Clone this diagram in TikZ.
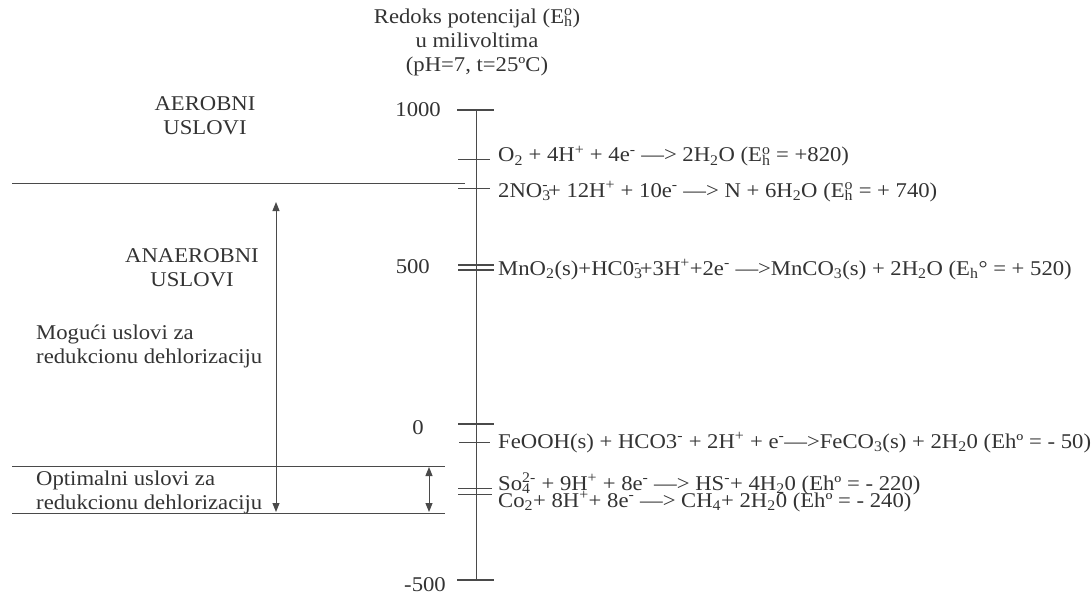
\documentclass[tikz,border=0pt]{standalone}
\usepackage{fontspec}
\setmainfont{Liberation Serif}[FakeStretch=1.08]
\usetikzlibrary{arrows.meta}
\definecolor{ink}{HTML}{333333}
\definecolor{rule}{HTML}{4A4A4A}
\newcommand{\sbx}[1]{\textsubscript{#1}}
\newcommand{\spx}[1]{\textsuperscript{#1}}
\newcommand{\bothx}[2]{\rlap{\textsubscript{#1}}\textsuperscript{#2}}
\tikzset{
  lbl/.style={text=ink, inner sep=0pt, font=\fontsize{21}{24}\selectfont},
  rxn/.style={lbl, anchor=base west},
  axisline/.style={draw=rule, line width=1pt},
  minortick/.style={draw=rule, line width=1pt},
  majortick/.style={draw=rule, line width=2pt},
  sep/.style={draw=rule, line width=0.9pt},
  dbl/.style={draw=rule, line width=1pt, {Triangle[length=9pt,width=7pt]}-{Triangle[length=9pt,width=7pt]}}
}
\begin{document}
\begin{tikzpicture}[x=1pt,y=-1pt]
\useasboundingbox (0,0) rectangle (1091,596);
% title
\node[lbl, align=center] (title) at (477,42) {Redoks potencijal (E\bothx{h}{o})\\u milivoltima\\(pH=7, t=25ºC)};
% axis
\coordinate (top) at (476,110);
\coordinate (bot) at (476,580);
\draw[axisline] (top) -- (bot);
% ticks
\coordinate (k1a) at (457,110); \coordinate (k1b) at (494,110);
\draw[majortick] (k1a) -- (k1b);
\coordinate (k2a) at (458,160); \coordinate (k2b) at (490,160);
\draw[minortick] (k2a) -- (k2b);
\coordinate (k3a) at (458,188); \coordinate (k3b) at (490,188);
\draw[minortick] (k3a) -- (k3b);
\coordinate (k4a) at (458,265); \coordinate (k4b) at (494,265);
\coordinate (k5a) at (458,270); \coordinate (k5b) at (494,270);
\draw[minortick, line width=1.6pt] (k4a) -- (k4b);
\draw[minortick, line width=1.6pt] (k5a) -- (k5b);
\coordinate (k6a) at (458,424); \coordinate (k6b) at (494,424);
\draw[majortick] (k6a) -- (k6b);
\coordinate (k7a) at (459,442); \coordinate (k7b) at (490,442);
\draw[minortick] (k7a) -- (k7b);
\coordinate (k8a) at (458,488); \coordinate (k8b) at (492,488);
\draw[minortick] (k8a) -- (k8b);
\coordinate (k9a) at (458,494); \coordinate (k9b) at (492,494);
\draw[minortick] (k9a) -- (k9b);
\coordinate (k10a) at (457,580); \coordinate (k10b) at (494,580);
\draw[majortick] (k10a) -- (k10b);
% scale labels
\node[lbl, anchor=east] (v1000) at (441,110) {1000};
\node[lbl, anchor=east] (v500) at (430,267) {500};
\node[lbl, anchor=east] (v0) at (424,428) {0};
\node[lbl, anchor=east] (vm500) at (446,585) {-500};
% reactions
\node[rxn] (r1) at (498,162) {O\sbx{2} + 4H\spx{+} + 4e\spx{-} —> 2H\sbx{2}O (E\bothx{h}{o} = +820)};
\node[rxn] (r2) at (498,197) {2NO\bothx{3}{-}+ 12H\spx{+} + 10e\spx{-} —> N + 6H\sbx{2}O (E\bothx{h}{o} = + 740)};
\node[rxn] (r3) at (498,275) {MnO\sbx{2}(s)+HC0\bothx{3}{-}+3H\spx{+}+2e\spx{-} —>MnCO\sbx{3}(s) + 2H\sbx{2}O (E\sbx{h}° = + 520)};
\node[rxn] (r4) at (498,448) {FeOOH(s) + HCO3\spx{-} + 2H\spx{+} + e\spx{-}—>FeCO\sbx{3}(s) + 2H\sbx{2}0 (Ehº = - 50)};
\node[rxn] (r5) at (498,490) {So\bothx{4}{2-} + 9H\spx{+} + 8e\spx{-} —> HS\spx{-}+ 4H\sbx{2}0 (Ehº = - 220)};
\node[rxn] (r6) at (498,507) {Co\sbx{2}+ 8H\spx{+}+ 8e\spx{-} —> CH\sbx{4}+ 2H\sbx{2}0 (Ehº = - 240)};
% left zone labels
\node[lbl, align=center] (aer) at (205,116) {AEROBNI\\USLOVI};
\node[lbl, align=center] (anaer) at (192,268) {ANAEROBNI\\USLOVI};
\node[lbl, align=left, anchor=west] (mog) at (36,346) {Mogući uslovi za\\redukcionu dehlorizaciju};
\node[lbl, align=left, anchor=west] (opt) at (36,492) {Optimalni uslovi za\\redukcionu dehlorizaciju};
% separators
\coordinate (s1a) at (12,183); \coordinate (s1b) at (465,183);
\draw[sep] (s1a) -- (s1b);
\coordinate (s2a) at (12,466); \coordinate (s2b) at (445,466);
\draw[sep] (s2a) -- (s2b);
\coordinate (s3a) at (12,513); \coordinate (s3b) at (445,513);
\draw[sep] (s3a) -- (s3b);
% arrows
\coordinate (a1t) at (276,202); \coordinate (a1b) at (276,512);
\draw[dbl] (a1b) -- (a1t);
\coordinate (a2t) at (429,467); \coordinate (a2b) at (429,512);
\draw[dbl] (a2b) -- (a2t);
\end{tikzpicture}
\end{document}
